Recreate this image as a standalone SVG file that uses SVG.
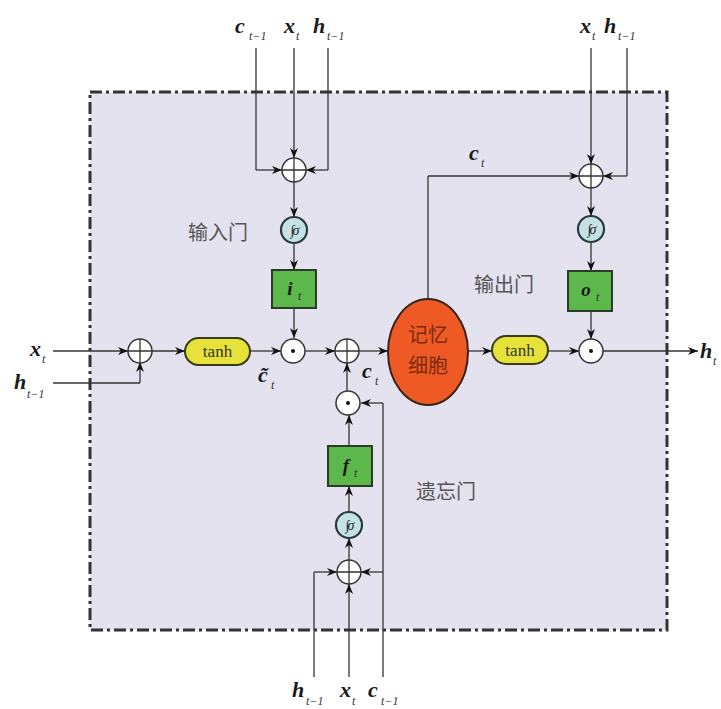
<svg xmlns="http://www.w3.org/2000/svg" width="721" height="709" viewBox="0 0 721 709">
<defs>
<marker id="ah" viewBox="0 0 10 8" refX="10" refY="4" markerWidth="10" markerHeight="8" markerUnits="userSpaceOnUse" orient="auto">
<path d="M0,0 L10,4 L0,8 L3,4 Z" fill="#111"/>
</marker>
<style>
.ln{fill:none;stroke:#333;stroke-width:1.3}
.ar{fill:none;stroke:#333;stroke-width:1.3;marker-end:url(#ah)}
.op{fill:#fff;stroke:#333;stroke-width:1.5}
.sg{fill:#c4e2e4;stroke:#2a3a3c;stroke-width:2.2}
.gate{fill:#5cb84a;stroke:#2c3a28;stroke-width:2}
.tanh{fill:#e6e23a;stroke:#3a3a18;stroke-width:2}
.v{font-family:"Liberation Serif",serif;font-weight:bold;font-style:italic;font-size:22px;fill:#1a1a1a}
.s{font-family:"Liberation Serif",serif;font-style:italic;font-size:12px;fill:#333}
.g{font-family:"Liberation Serif",serif;font-weight:bold;font-style:italic;font-size:19px;fill:#1a1a1a}
.cn{font-family:"Noto Sans CJK SC",sans-serif;font-size:20px;fill:#555}
.mc{font-family:"Noto Sans CJK SC",sans-serif;font-size:20px;fill:#7a2a10}
.tt{font-family:"Liberation Serif",serif;font-size:17px;fill:#333}
.sgt{font-family:"Liberation Serif",serif;font-style:italic;font-size:14px;fill:#222}
</style>
</defs>
<rect width="721" height="709" fill="#fff"/>
<rect id="cell-box" x="90" y="92" width="577" height="538" fill="#e4e2ee" stroke="#333" stroke-width="3" stroke-dasharray="12,4,3,4"/>

<g id="connectors">
<path class="ln" d="M256,48 V170"/><path class="ar" d="M256,170 H282"/>
<path class="ln" d="M328,48 V170"/><path class="ar" d="M328,170 H306"/>
<path class="ar" d="M294,48 V158"/>
<path class="ar" d="M294,182 V217"/>
<path class="ar" d="M294,243 V270"/>
<path class="ar" d="M294,308 V338"/>
<path class="ar" d="M53,351 H128"/>
<path class="ln" d="M53,383 H140"/><path class="ar" d="M140,383 V362"/>
<path class="ar" d="M152,351 H185"/>
<path class="ar" d="M250,351 H281"/>
<path class="ar" d="M305,351 H335"/>
<path class="ar" d="M359,351 H388"/>
<path class="ar" d="M468,351 H492"/>
<path class="ar" d="M548,351 H579"/>
<path class="ar" d="M603,351 H698"/>
<path class="ln" d="M428,299 V176"/><path class="ar" d="M428,176 H579"/>
<path class="ln" d="M627,48 V176"/><path class="ar" d="M627,176 H603"/>
<path class="ar" d="M591,48 V164"/>
<path class="ar" d="M591,188 V216"/>
<path class="ar" d="M591,242 V271"/>
<path class="ar" d="M591,311 V339"/>
<path class="ln" d="M314,677 V572"/><path class="ar" d="M314,572 H337"/>
<path class="ln" d="M383,677 V403"/><path class="ar" d="M383,403 H361"/>
<path class="ar" d="M383,572 H361"/>
<path class="ar" d="M349,677 V584"/>
<path class="ar" d="M349,560 V538"/>
<path class="ar" d="M349,512 V486"/>
<path class="ar" d="M349,446 V415"/>
<path class="ar" d="M347,391 V363"/>
</g>

<g id="in-sum"><circle class="op" cx="294" cy="170" r="12"/><path class="ln" d="M282,170 H306 M294,158 V182"/></g>
<g id="in-sigma"><circle class="sg" cx="294" cy="230" r="13"/><text class="sgt" x="294" y="235" text-anchor="middle" letter-spacing="-2">∫σ</text></g>
<g id="in-gate"><rect class="gate" x="272" y="270" width="44" height="38"/><text class="g" x="290" y="295" text-anchor="middle">i</text><text class="s" x="298" y="300">t</text></g>
<g id="in-label"><text class="cn" x="188" y="240">输入门</text></g>

<g id="x-sum"><circle class="op" cx="140" cy="351" r="12"/><path class="ln" d="M128,351 H152 M140,339 V363"/></g>
<g id="tanh-in"><rect class="tanh" x="185" y="338" width="65" height="27" rx="13.5"/><text class="tt" x="217.5" y="357" text-anchor="middle">tanh</text></g>
<g id="in-mul"><circle class="op" cx="293" cy="351" r="12"/><circle cx="293" cy="351" r="2" fill="#111"/></g>
<g id="c-sum"><circle class="op" cx="347" cy="351" r="12"/><path class="ln" d="M335,351 H359 M347,339 V363"/></g>
<g id="memory-cell"><ellipse cx="428" cy="352" rx="40" ry="53" fill="#ef5a24" stroke="#3a2418" stroke-width="2"/><text class="mc" x="428" y="342" text-anchor="middle">记忆</text><text class="mc" x="428" y="373" text-anchor="middle">细胞</text></g>
<g id="tanh-out"><rect class="tanh" x="492" y="336" width="56" height="28" rx="14"/><text class="tt" x="520" y="356" text-anchor="middle">tanh</text></g>
<g id="out-mul"><circle class="op" cx="591" cy="351" r="12"/><circle cx="591" cy="351" r="2" fill="#111"/></g>

<g id="out-sum"><circle class="op" cx="591" cy="176" r="12"/><path class="ln" d="M579,176 H603 M591,164 V188"/></g>
<g id="out-sigma"><circle class="sg" cx="591" cy="229" r="13"/><text class="sgt" x="591" y="234" text-anchor="middle" letter-spacing="-2">∫σ</text></g>
<g id="out-gate"><rect class="gate" x="568" y="271" width="44" height="40"/><text class="g" x="586" y="296" text-anchor="middle">o</text><text class="s" x="596" y="301">t</text></g>
<g id="out-label"><text class="cn" x="474" y="292">输出门</text></g>

<g id="f-mul"><circle class="op" cx="348" cy="403" r="12"/><circle cx="348" cy="403" r="2" fill="#111"/></g>
<g id="f-gate"><rect class="gate" x="328" y="446" width="44" height="40"/><text class="g" x="346" y="472" text-anchor="middle">f</text><text class="s" x="354" y="477">t</text></g>
<g id="f-sigma"><circle class="sg" cx="349" cy="525" r="13"/><text class="sgt" x="349" y="530" text-anchor="middle" letter-spacing="-2">∫σ</text></g>
<g id="f-sum"><circle class="op" cx="349" cy="572" r="12"/><path class="ln" d="M337,572 H361 M349,560 V584"/></g>
<g id="f-label"><text class="cn" x="416" y="499">遗忘门</text></g>

<g id="labels">
<text class="v" x="235" y="33">c</text><text class="s" x="249" y="40">t−1</text>
<text class="v" x="284" y="33">x</text><text class="s" x="296" y="40">t</text>
<text class="v" x="313" y="33">h</text><text class="s" x="327" y="40">t−1</text>
<text class="v" x="580" y="33">x</text><text class="s" x="592" y="40">t</text>
<text class="v" x="604" y="33">h</text><text class="s" x="618" y="40">t−1</text>
<text class="v" x="30" y="356">x</text><text class="s" x="42" y="363">t</text>
<text class="v" x="14" y="389">h</text><text class="s" x="27" y="398">t−1</text>
<text class="v" x="700" y="358">h</text><text class="s" x="713" y="365">t</text>
<text class="v" x="469" y="160">c</text><text class="s" x="481" y="167">t</text>
<text class="v" x="258" y="382">c̃</text><text class="s" x="271" y="389">t</text>
<text class="v" x="362" y="378">c</text><text class="s" x="375" y="385">t</text>
<text class="v" x="292" y="697">h</text><text class="s" x="306" y="705">t−1</text>
<text class="v" x="340" y="697">x</text><text class="s" x="352" y="705">t</text>
<text class="v" x="368" y="697">c</text><text class="s" x="381" y="705">t−1</text>
</g>
</svg>
